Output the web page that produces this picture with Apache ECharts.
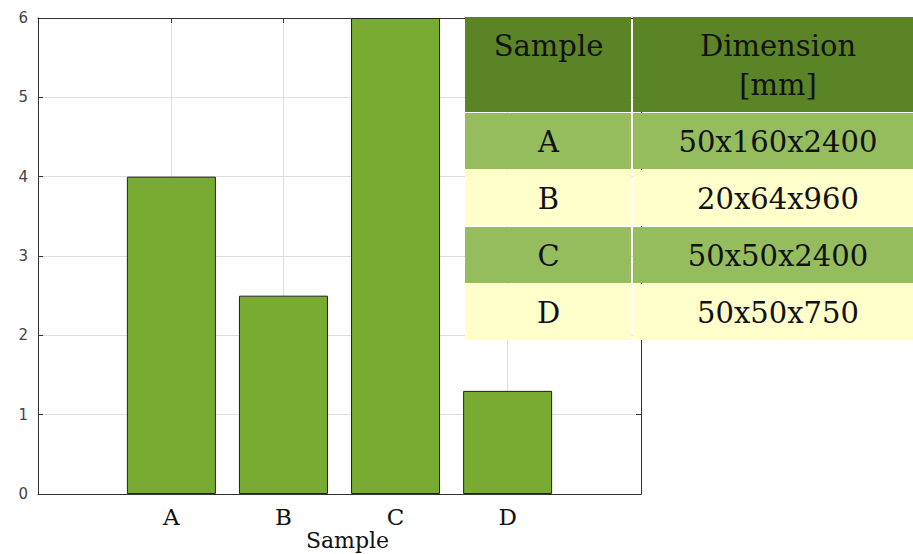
<!DOCTYPE html>
<html>
<head>
<meta charset="utf-8">
<script src="https://cdn.jsdelivr.net/npm/echarts@6/dist/echarts.min.js"></script>
<style>html,body{margin:0;padding:0;background:#fff}#c{width:913px;height:554px}</style>
</head>
<body>
<div id="c"></div>
<script>
// ---- data ----
const categories = ['A', 'B', 'C', 'D'];
const values = [4, 2.5, 6, 1.3];
const yTicks = [0, 1, 2, 3, 4, 5, 6];
const tableHeader = ['Sample', 'Dimension\n[mm]'];
const tableSamples = ['A', 'B', 'C', 'D'];
const tableDims = ['50x160x2400', '20x64x960', '50x50x2400', '50x50x750'];

// ---- chart ----
const chart = echarts.init(document.getElementById('c'), null, {renderer: 'svg'});
const catPos = categories.map((c, i) => i + 1);
const serif = 'DejaVu Serif';

// table graphics
const tx0 = 465, tx1 = 632, tx2 = 913;
const col2Center = 778;
const headTop = 17, headH = 95, rowH = 57;
const rowColors = ['#95bd5e', '#ffffcc'];
const tFont = '29px "' + serif + '"';
const g = [];
g.push({type: 'rect', shape: {x: tx0, y: headTop, width: tx1 - tx0 - 1, height: headH}, style: {fill: '#5b8427'}, z: 100});
g.push({type: 'rect', shape: {x: tx1 + 1, y: headTop, width: tx2 - tx1, height: headH}, style: {fill: '#5b8427'}, z: 100});
g.push({type: 'text', x: (tx0 + tx1) / 2, y: headTop + 29, style: {text: tableHeader[0], font: tFont, fill: '#111', align: 'center', verticalAlign: 'middle'}, z: 101});
g.push({type: 'text', x: col2Center, y: headTop + 48, style: {text: tableHeader[1], font: tFont, fill: '#111', align: 'center', verticalAlign: 'middle', lineHeight: 39}, z: 101});
tableSamples.forEach((s, i) => {
  const y = headTop + headH + 1 + i * rowH;
  const fill = rowColors[i % 2];
  g.push({type: 'rect', shape: {x: tx0, y: y, width: tx1 - tx0 - 1, height: rowH - 1}, style: {fill: fill}, z: 100});
  g.push({type: 'rect', shape: {x: tx1 + 1, y: y, width: tx2 - tx1, height: rowH - 1}, style: {fill: fill}, z: 100});
  g.push({type: 'text', x: (tx0 + tx1) / 2, y: y + rowH / 2, style: {text: s, font: tFont, fill: '#111', align: 'center', verticalAlign: 'middle'}, z: 101});
  g.push({type: 'text', x: col2Center, y: y + rowH / 2, style: {text: tableDims[i], font: tFont, fill: '#111', align: 'center', verticalAlign: 'middle'}, z: 101});
});

const axisLine = {show: true, onZero: false, lineStyle: {color: '#333', width: 1}};
const option = {
  animation: false,
  backgroundColor: '#fff',
  grid: {left: 38, right: 272, top: 18, bottom: 60, containLabel: false, outerBoundsMode: 'none'},
  xAxis: [{
    type: 'value', min: -0.19, max: 5.19, position: 'bottom',
    name: 'Sample', nameLocation: 'middle', nameGap: 35, nameMoveOverlap: false,
    nameTextStyle: {fontFamily: serif, fontSize: 22, lineHeight: 22, color: '#111', padding: [0, 0, 0, 16]},
    axisLine: axisLine,
    axisTick: {show: true, inside: true, length: 5, lineStyle: {color: '#333'}, customValues: catPos},
    axisLabel: {customValues: catPos, formatter: v => categories[Math.round(v) - 1] || '', fontFamily: serif, fontSize: 23, color: '#111', margin: 11},
    splitLine: {show: false}
  }, {
    type: 'value', min: -0.19, max: 5.19, position: 'top',
    axisLine: axisLine,
    axisTick: {show: true, inside: true, length: 5, lineStyle: {color: '#333'}, customValues: catPos},
    axisLabel: {show: false, customValues: catPos},
    splitLine: {show: false}
  }],
  yAxis: [{
    type: 'value', min: 0, max: 6, interval: 1, position: 'left',
    axisLine: axisLine,
    axisTick: {show: true, inside: true, length: 5, lineStyle: {color: '#333'}},
    axisLabel: {fontFamily: 'DejaVu Sans', fontSize: 15, color: '#444', margin: 10},
    splitLine: {show: true, lineStyle: {color: '#dedede', width: 1}}
  }, {
    type: 'value', min: 0, max: 6, interval: 1, position: 'right',
    axisLine: axisLine,
    axisTick: {show: true, inside: true, length: 5, lineStyle: {color: '#333'}},
    axisLabel: {show: false},
    splitLine: {show: false}
  }],
  series: [{
    type: 'bar',
    xAxisIndex: 0, yAxisIndex: 0,
    data: values.map((v, i) => [catPos[i], v]),
    barWidth: 89,
    itemStyle: {color: '#79aa32', borderColor: '#222', borderWidth: 1},
    markLine: {
      silent: true, symbol: 'none', label: {show: false},
      lineStyle: {color: '#dedede', type: 'solid', width: 1},
      data: catPos.map(p => ({xAxis: p})),
      z: 0
    },
    z: 2
  }],
  graphic: g
};
chart.setOption(option);
</script>
</body>
</html>
